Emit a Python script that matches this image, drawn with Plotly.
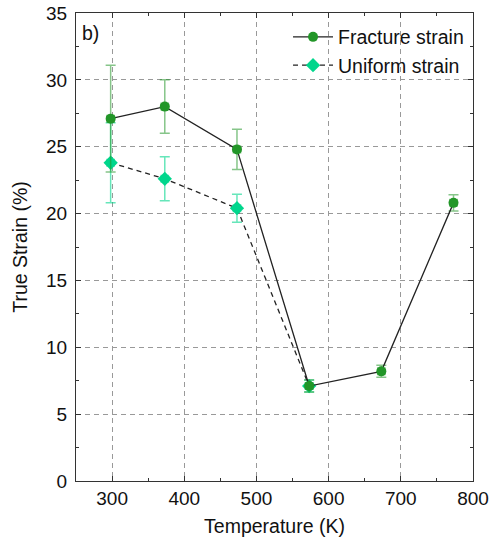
import plotly.graph_objects as go

# Test temperatures (K)
temp_fracture = [298, 373, 473, 573, 673, 773]
temp_uniform = [298, 373, 473, 573]

# True strain (%) with standard deviations
fracture_strain = [27.1, 28.0, 24.8, 7.1, 8.2, 20.8]
fracture_err = [4.0, 2.0, 1.5, 0.45, 0.45, 0.6]
uniform_strain = [23.8, 22.6, 20.4, 7.1]
uniform_err = [3.0, 1.65, 1.05, 0.45]
temp_err = [5, 5, 5, 5, 5, 5]

x_ticks = [300, 400, 500, 600, 700, 800]
y_ticks = [0, 5, 10, 15, 20, 25, 30, 35]

FONT = "Liberation Sans, Arial, sans-serif"
fracture_color = "rgb(34,150,40)"
uniform_color = "rgb(0,214,140)"

fig = go.Figure()

fig.add_trace(go.Scatter(
    x=temp_uniform, y=uniform_strain, name="Uniform strain",
    mode="lines+markers", legendrank=2,
    line=dict(color="#222222", width=1.3, dash="5px,4px"),
    marker=dict(symbol="diamond", size=11, color=uniform_color),
    error_y=dict(type="data", array=uniform_err, color="rgba(0,214,140,0.6)",
                 thickness=1.5, width=5),
    error_x=dict(type="data", array=temp_err[:len(temp_uniform)],
                 color="rgba(0,214,140,0.6)", thickness=1.5, width=4),
))

fig.add_trace(go.Scatter(
    x=temp_fracture, y=fracture_strain, name="Fracture strain",
    mode="lines+markers", legendrank=1,
    line=dict(color="#222222", width=1.3),
    marker=dict(symbol="circle", size=10, color=fracture_color),
    error_y=dict(type="data", array=fracture_err, color="rgba(34,150,40,0.55)",
                 thickness=1.5, width=5),
    error_x=dict(type="data", array=temp_err,
                 color="rgba(34,150,40,0.55)", thickness=1.5, width=4),
))

axis_common = dict(
    showline=True, linecolor="#333333", linewidth=1.3, mirror="ticks",
    ticks="inside", ticklen=5, tickwidth=1, tickcolor="#333333",
    showgrid=True, gridcolor="#999999", griddash="5px,4px", gridwidth=1,
    zeroline=False, automargin=False,
    tickfont=dict(family=FONT, size=19, color="#111111"),
    title_font=dict(family=FONT, size=19.5, color="#111111"),
)

fig.update_xaxes(
    range=[250, 800], tickvals=x_ticks,
    minor=dict(dtick=50, ticks="inside", ticklen=3, tickcolor="#333333", showgrid=False),
    title_text="Temperature (K)", title_standoff=11,
    **axis_common,
)
fig.update_yaxes(
    range=[0, 35], tickvals=y_ticks,
    minor=dict(dtick=2.5, ticks="inside", ticklen=3, tickcolor="#333333", showgrid=False),
    title_text="True Strain (%)", title_standoff=13, ticklabelstandoff=4,
    **axis_common,
)

fig.add_annotation(
    x=0.01, y=0.985, xref="paper", yref="paper", xanchor="left", yanchor="top",
    text="b)", showarrow=False, font=dict(family=FONT, size=19.5, color="#111111"),
)

fig.update_layout(
    width=492, height=545,
    margin=dict(l=76, r=19, t=13, b=64, autoexpand=False),
    paper_bgcolor="white", plot_bgcolor="white",
    showlegend=True,
    legend=dict(
        x=0.99, y=0.99, xanchor="right", yanchor="top",
        bgcolor="rgba(255,255,255,0)", borderwidth=0,
        font=dict(family=FONT, size=19.5, color="#111111"),
        itemwidth=40, tracegroupgap=0,
    ),
)

fig.write_html("out.html")
